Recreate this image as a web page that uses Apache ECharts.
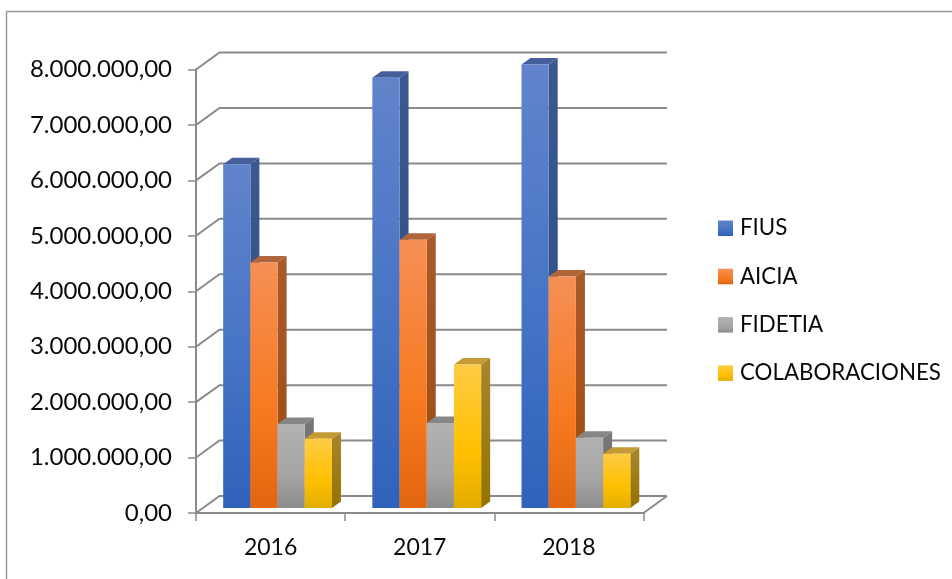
<!DOCTYPE html>
<html><head><meta charset="utf-8">
<style>html,body{margin:0;padding:0;background:#fff}#c{width:952px;height:579px}</style>
<script src="https://cdn.jsdelivr.net/npm/echarts@6/dist/echarts.min.js"></script>
</head><body><div id="c"></div>
<script>
const categories = ['2016', '2017', '2018'];
const seriesNames = ['FIUS', 'AICIA', 'FIDETIA', 'COLABORACIONES'];
const fius = [6200000, 7760000, 8000000];
const aicia = [4430000, 4840000, 4175000];
const fidetia = [1515000, 1535000, 1265000];
const colaboraciones = [1250000, 2590000, 980000];
const yTicks = [0, 1000000, 2000000, 3000000, 4000000, 5000000, 6000000, 7000000, 8000000];

const FONT = 'Lato, Carlito, "Open Sans", sans-serif';
const AXIS = '#8a8a8a';
const WALL_DX = 23.5, WALL_DY = -17;
const BAR_DX = 7, BAR_DY = -5, SIDE_DX = 9, SIDE_DY = -6.5, BAR_W = 27.2;

const palette = [
  { stops: ['#6184cc', '#4472c4', '#2f62bb'], side: ['#3c5890', '#2c4a80'], top: '#465f9c' },
  { stops: ['#f68f55', '#f77a20', '#e2660f'], side: ['#a95a2a', '#9c4d12'], top: '#b0653a' },
  { stops: ['#b2b2b2', '#a5a5a5', '#8d8d8d'], side: ['#787878', '#666666'], top: '#868686' },
  { stops: ['#ffcb45', '#ffc000', '#e3ad00'], side: ['#a8862a', '#957200'], top: '#c39a34' }
];
function grad(stops) {
  return new echarts.graphic.LinearGradient(0, 0, 0, 1, [
    { offset: 0, color: stops[0] }, { offset: 0.6, color: stops[1] }, { offset: 1, color: stops[2] }
  ]);
}
function renderBar(idx) {
  return function (params, api) {
    const p = palette[idx];
    const total = BAR_W * 4;
    const c = api.coord([api.value(0), api.value(1)]);
    const base = api.coord([api.value(0), 0]);
    const x = c[0] - total / 2 + idx * BAR_W + BAR_DX;
    const top = c[1] + BAR_DY;
    const bot = base[1] + BAR_DY;
    return {
      type: 'group',
      children: [
        { type: 'polygon', shape: { points: [[x + BAR_W, top], [x + BAR_W + SIDE_DX, top + SIDE_DY], [x + BAR_W + SIDE_DX, bot + SIDE_DY], [x + BAR_W, bot]] },
          style: { fill: new echarts.graphic.LinearGradient(0, 0, 0, 1, [{ offset: 0, color: p.side[0] }, { offset: 1, color: p.side[1] }]) } },
        { type: 'polygon', shape: { points: [[x, top], [x + SIDE_DX, top + SIDE_DY], [x + BAR_W + SIDE_DX, top + SIDE_DY], [x + BAR_W, top]] },
          style: { fill: p.top } },
        { type: 'rect', shape: { x: x, y: top, width: BAR_W, height: bot - top }, style: { fill: grad(p.stops) } }
      ]
    };
  };
}
function renderWall(params, api) {
  const cs = params.coordSys;
  const y = api.coord([0, api.value(1)])[1];
  const xl = cs.x, xr = cs.x + cs.width;
  const pts = [[xl, y], [xl + WALL_DX, y + WALL_DY], [xr + WALL_DX, y + WALL_DY]];
  const line = { stroke: AXIS, lineWidth: 2, fill: null };
  const kids = [{ type: 'polyline', shape: { points: pts }, style: line }];
  if (api.value(1) === 0) {
    kids.push({ type: 'polyline', shape: { points: [[xr + WALL_DX, y + WALL_DY], [xr, y]] }, style: line });
  }
  return { type: 'group', children: kids };
}
const values = [fius, aicia, fidetia, colaboraciones];
const option = {
  animation: false,
  backgroundColor: '#fff',
  textStyle: { fontFamily: FONT },
  grid: { left: 196, top: 69.5, width: 447.5, height: 443.5, containLabel: false },
  legend: {
    orient: 'vertical', left: 713, top: 212, itemWidth: 15, itemHeight: 15.5, itemGap: 25.8, icon: 'rect',
    selectedMode: false,
    data: seriesNames.map((n, i) => ({ name: n, itemStyle: { color: grad(palette[i].stops) } })),
    textStyle: { fontSize: 22.3, color: '#0a0a0a', fontFamily: FONT, padding: [0, 0, 0, 2], height: 22.5, lineHeight: 22.5 }
  },
  xAxis: {
    type: 'category', data: categories,
    axisLine: { show: true, onZero: false, lineStyle: { color: AXIS, width: 2 } },
    axisTick: { show: true, length: 8, lineStyle: { color: AXIS, width: 1.5 } },
    axisLabel: { margin: 23, fontSize: 23, color: '#0a0a0a', fontFamily: FONT }
  },
  yAxis: {
    type: 'value', min: 0, max: 8000000, interval: 1000000,
    axisLine: { show: true, lineStyle: { color: AXIS, width: 2 } },
    axisTick: { show: true, length: 8, lineStyle: { color: AXIS, width: 1.5 } },
    splitLine: { show: false },
    axisLabel: {
      margin: 24, fontSize: 24, color: '#0a0a0a', fontFamily: FONT,
      formatter: v => v.toLocaleString('de-DE', { minimumFractionDigits: 2, maximumFractionDigits: 2 })
    }
  },
  graphic: [{
    type: 'rect', silent: true, z: -1,
    shape: { x: 6.5, y: 11.5, width: 960, height: 590 },
    style: { fill: null, stroke: '#9c9c9c', lineWidth: 1.5 }
  }],
  series: [
    { type: 'custom', name: 'wall', z: 1, renderItem: renderWall, silent: true,
      encode: { x: 0, y: 1 }, data: yTicks.map(t => [0, t]) }
  ].concat(seriesNames.map((n, i) => ({
    type: 'custom', name: n, z: 2 + i, renderItem: renderBar(i),
    itemStyle: { color: palette[i].stops[1] },
    encode: { x: 0, y: 1 },
    data: values[i].map((v, k) => [k, v])
  })))
};
echarts.init(document.getElementById('c'), null, { renderer: 'canvas' }).setOption(option);
</script></body></html>
